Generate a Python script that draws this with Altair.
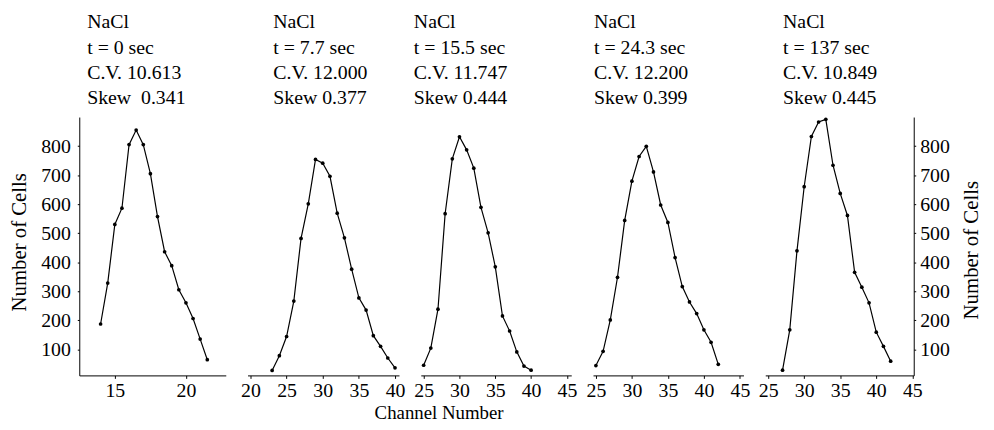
import altair as alt
import pandas as pd

FONT = "Liberation Serif"

# ---- data ----
ch1 = [14, 14.5, 15, 15.5, 16, 16.5, 17, 17.5, 18, 18.5, 19, 19.5, 20, 20.5, 21, 21.5]
v1 = [187, 328, 530, 586, 805, 855, 805, 705, 557, 436, 388, 305, 260, 206, 135, 64]

ch2 = list(range(23, 41))
v2 = [27, 78, 144, 266, 482, 601, 754, 741, 696, 569, 484, 376, 277, 235, 147, 110, 70, 36]

ch3 = list(range(25, 41))
v3 = [45, 104, 238, 567, 756, 832, 787, 724, 589, 501, 384, 215, 163, 91, 42, 28]

ch4 = list(range(25, 43))
v4 = [44, 93, 201, 348, 544, 679, 764, 799, 711, 597, 537, 416, 316, 263, 223, 167, 124, 48]

ch5 = list(range(27, 43))
v5 = [28, 167, 439, 660, 833, 883, 892, 734, 637, 561, 365, 314, 260, 159, 110, 59]

titles = [
    ["NaCl", "t = 0 sec", "C.V. 10.613", "Skew\u00a0 0.341"],
    ["NaCl", "t = 7.7 sec", "C.V. 12.000", "Skew 0.377"],
    ["NaCl", "t = 15.5 sec", "C.V. 11.747", "Skew 0.444"],
    ["NaCl", "t = 24.3 sec", "C.V. 12.200", "Skew 0.399"],
    ["NaCl", "t = 137 sec", "C.V. 10.849", "Skew 0.445"],
]

x_ticks = [[15, 20], [20, 25, 30, 35, 40], [25, 30, 35, 40, 45],
           [25, 30, 35, 40, 45], [25, 30, 35, 40, 45]]
x_domains = [[12.5, 22.8], [19.6, 40.55], [24.6, 45.6], [24.6, 45.5], [24.6, 45.2]]
y_ticks = [100, 200, 300, 400, 500, 600, 700, 800]
y_domain = [10, 900]

widths = [148, 153, 152, 152, 150]
title_dx = [8, 26, -7, 1, 18]
H = 261

series = [(ch1, v1), (ch2, v2), (ch3, v3), (ch4, v4), (ch5, v5)]

charts = []
for i, (ch, vals) in enumerate(series):
    df = pd.DataFrame({"channel": ch, "cells": vals})
    xaxis_kwargs = dict(
        values=x_ticks[i], grid=False, labelFont=FONT, labelFontSize=20,
        labelColor="black", domainColor="black", tickColor="black",
        tickSize=3, labelPadding=2, labelFlush=False, labelOverlap=False,
        format="d",
    )
    if i == 2:
        xaxis = alt.Axis(title="Channel Number", titleFont=FONT, titleFontSize=19,
                         titleFontWeight="normal", titleColor="black",
                         titleX=18, titleY=38, titleAlign="center",
                         titleBaseline="middle", **xaxis_kwargs)
    else:
        xaxis = alt.Axis(title=None, **xaxis_kwargs)

    yaxis_common = dict(
        values=y_ticks, grid=False, labelFont=FONT, labelFontSize=20,
        labelColor="black", domainColor="black", tickColor="black",
        tickSize=2, labelFlush=False, labelOverlap=False,
        title="Number of Cells", titleFont=FONT, titleFontSize=21,
        titleFontWeight="normal", titleColor="black", titleAngle=270,
        titleAlign="center", titleBaseline="middle",
    )
    if i == 0:
        yaxis = alt.Axis(orient="left", labelPadding=7, titleX=-60, titleY=126,
                         **yaxis_common)
    elif i == 4:
        yaxis = alt.Axis(orient="right", labelPadding=4, titleX=58, titleY=134,
                         **yaxis_common)
    else:
        yaxis = None

    base = alt.Chart(df).encode(
        x=alt.X("channel:Q", scale=alt.Scale(domain=x_domains[i], nice=False, zero=False),
                axis=xaxis),
        y=alt.Y("cells:Q", scale=alt.Scale(domain=y_domain, nice=False, zero=False),
                axis=yaxis),
    )
    line = base.mark_line(color="black", strokeWidth=1.2)
    pts = base.mark_circle(color="black", size=14, opacity=1)
    layer = alt.layer(line, pts).properties(
        width=widths[i], height=H,
        title=alt.TitleParams(
            text=titles[i], anchor="start", align="left", dx=title_dx[i],
            frame="group",
            font=FONT, fontSize=20, fontWeight="normal", color="black",
            lineHeight=25.5, offset=9,
        ),
    )
    charts.append(layer)

chart = alt.hconcat(*charts, spacing=22, bounds="flush").properties(
    padding={"left": 1, "top": 2, "right": 5, "bottom": 5}
).configure_view(stroke=None)

chart.save("out.html", embed_options={"renderer": "svg", "actions": False})
